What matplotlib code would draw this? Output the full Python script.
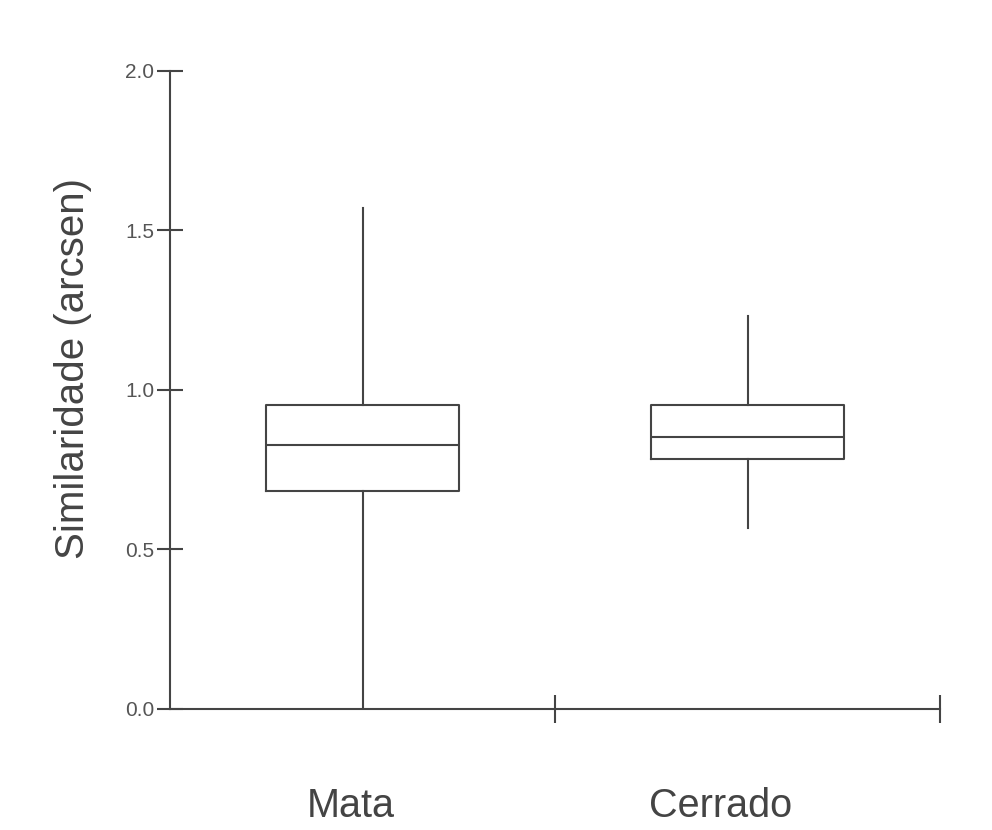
import matplotlib
matplotlib.use("Agg")
import matplotlib.pyplot as plt
import matplotlib.transforms as mtransforms

plt.rcParams["font.family"] = ["Liberation Sans", "DejaVu Sans"]

# values (arcsine-transformed similarity)
groups = ["Mata", "Cerrado"]
whisker_low = [0.0, 0.567]
q1 = [0.683, 0.784]
median = [0.828, 0.853]
q3 = [0.953, 0.953]
whisker_high = [1.571, 1.232]
yticks = [0.0, 0.5, 1.0, 1.5, 2.0]

LINE = "#444444"

stats = [{"label": g, "whislo": lo, "q1": a, "med": m, "q3": b, "whishi": hi}
         for g, lo, a, m, b, hi in zip(groups, whisker_low, q1, median, q3, whisker_high)]

fig = plt.figure(figsize=(9.92, 8.30), dpi=100)
ax = fig.add_axes([0.1714, 0.1458, 0.7762, 0.7687])

lw = 1.5
ax.bxp(stats, positions=[0.5, 1.5], widths=0.5, showcaps=False, showfliers=False,
       boxprops=dict(color=LINE, lw=lw), whiskerprops=dict(color=LINE, lw=lw),
       medianprops=dict(color=LINE, lw=lw))

ax.set_xlim(0, 2)
ax.set_ylim(0, 2)
ax.set_yticks(yticks)
ax.set_yticklabels([f"{v:.1f}" for v in yticks])
ax.set_xticks([1, 2])
ax.set_xticklabels([])
ax.tick_params(axis="y", direction="inout", length=19, width=lw, color=LINE,
               labelsize=15, labelcolor="#555555", pad=2)
ax.tick_params(axis="x", direction="inout", length=20, width=lw, color=LINE)

for s in ("top", "right"):
    ax.spines[s].set_visible(False)
for s in ("left", "bottom"):
    ax.spines[s].set_color(LINE)
    ax.spines[s].set_linewidth(lw)

ax.set_ylabel("Similaridade (arcsen)", fontsize=29, color="#444444")
ax.yaxis.set_label_coords(-0.101, 0.534)

# category names sit well below the axis
trans = mtransforms.blended_transform_factory(ax.transData, fig.transFigure)
label_x = [0.47, 1.43]
for x, g in zip(label_x, groups):
    ax.text(x, 1 - 817 / 830, g, transform=trans, ha="center", va="baseline",
            fontsize=28.5, color="#444444")

fig.savefig("out.png", dpi=100, facecolor="white")
